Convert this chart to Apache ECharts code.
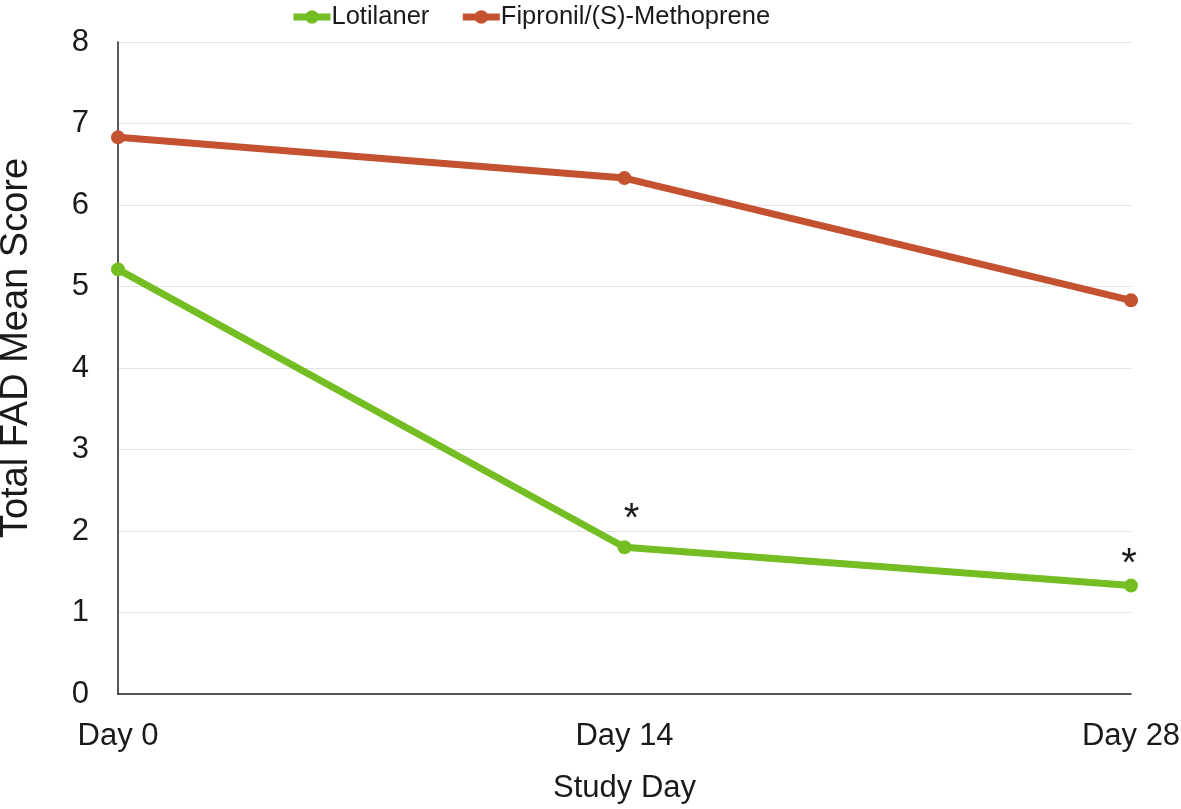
<!DOCTYPE html>
<html>
<head>
<meta charset="utf-8">
<script src="https://cdn.jsdelivr.net/npm/echarts@6/dist/echarts.min.js"></script>
<style>
  html, body { margin: 0; padding: 0; background: #fff; }
  #chart { width: 1181px; height: 809px; }
</style>
</head>
<body>
<div id="chart"></div>
<script>
// data
var days = ['Day 0', 'Day 14', 'Day 28'];
var lotilaner = [5.21, 1.8, 1.33];
var fipronil = [6.83, 6.33, 4.83];
var starred = [false, true, true]; // significance markers on Lotilaner

var chart = echarts.init(document.getElementById('chart'));

var fontName = '"Liberation Sans", Arial, sans-serif';
var green = '#74BE24';
var red = '#C4512F';
var starOffsets = [null, [7, 5], [-2, 11]];

var lotiData = lotilaner.map(function (v, i) {
    var d = { value: v };
    if (starred[i]) {
        d.label = {
            show: true,
            formatter: '*',
            position: 'top',
            offset: starOffsets[i],
            fontSize: 40,
            color: '#1a1a1a',
            fontFamily: fontName
        };
    }
    return d;
});

var option = {
    animation: false,
    textStyle: { fontFamily: fontName },
    legend: {
        top: -1,
        left: 285,
        itemWidth: 37,
        itemHeight: 17,
        itemGap: 30,
        lineStyle: { width: 7 },
        textStyle: { fontSize: 25.5, color: '#1a1a1a', fontFamily: fontName, padding: [0, 0, 0, -4] },
        data: ['Lotilaner', 'Fipronil/(S)-Methoprene']
    },
    grid: { left: 118, right: 50, top: 42, bottom: 115, outerBoundsMode: 'none' },
    xAxis: {
        type: 'category',
        data: days,
        boundaryGap: false,
        name: 'Study Day',
        nameLocation: 'middle',
        nameGap: 79,
        nameTextStyle: { fontSize: 31, color: '#1a1a1a' },
        axisLine: { lineStyle: { color: '#222', width: 1.5 } },
        axisTick: { show: false },
        axisLabel: { fontSize: 31, color: '#1a1a1a', margin: 27 },
        splitLine: { show: false }
    },
    yAxis: {
        type: 'value',
        min: 0,
        max: 8,
        interval: 1,
        name: 'Total FAD Mean Score',
        nameLocation: 'middle',
        nameGap: 82,
        nameTextStyle: { fontSize: 38, color: '#1a1a1a', padding: [0, 0, 0, 40] },
        axisLine: { show: true, lineStyle: { color: '#222', width: 1.5 } },
        axisTick: { show: false },
        axisLabel: { fontSize: 31, color: '#1a1a1a', margin: 29 },
        splitLine: { lineStyle: { color: '#e3e3e3', width: 1 } }
    },
    series: [
        {
            name: 'Lotilaner',
            type: 'line',
            data: lotiData,
            symbol: 'circle',
            symbolSize: 14,
            itemStyle: { color: green },
            lineStyle: { color: green, width: 7 }
        },
        {
            name: 'Fipronil/(S)-Methoprene',
            type: 'line',
            data: fipronil,
            symbol: 'circle',
            symbolSize: 14,
            itemStyle: { color: red },
            lineStyle: { color: red, width: 7 }
        }
    ]
};

chart.setOption(option);
</script>
</body>
</html>
